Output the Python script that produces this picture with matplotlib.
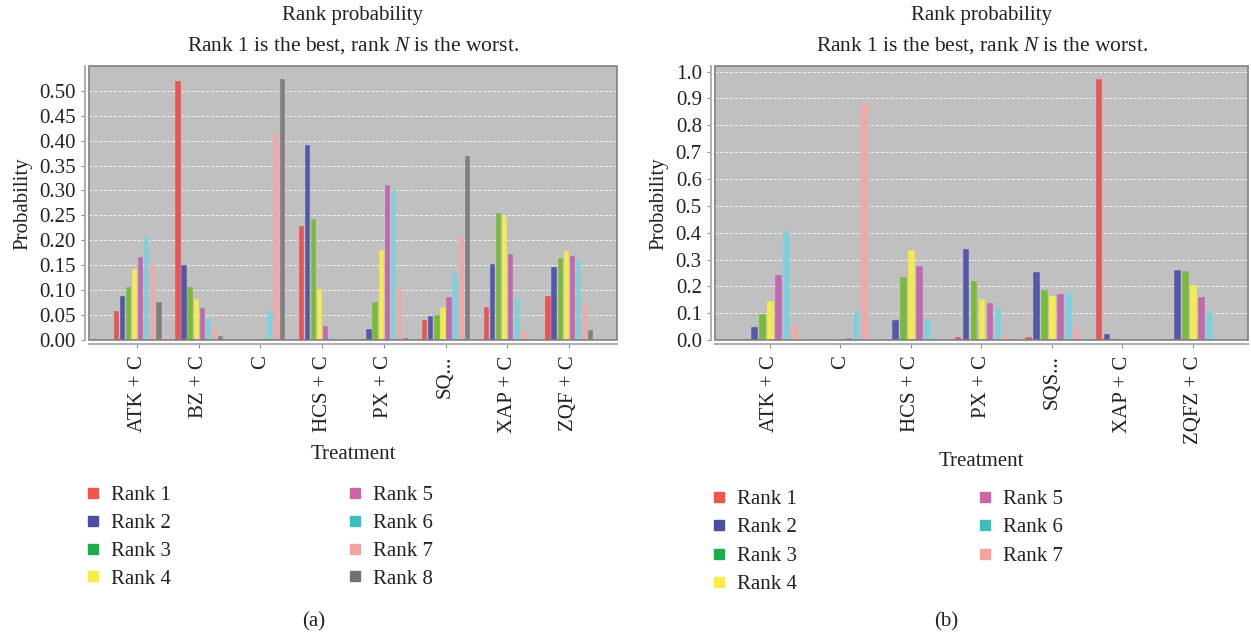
import numpy as np
import matplotlib.pyplot as plt
from matplotlib.lines import Line2D
from matplotlib.patches import Rectangle

FS = 15
plt.rcParams['font.family'] = ['Liberation Serif', 'DejaVu Serif']
plt.rcParams['font.size'] = FS
plt.rcParams['mathtext.fontset'] = 'custom'
plt.rcParams['mathtext.rm'] = 'Liberation Serif'
plt.rcParams['mathtext.it'] = 'Liberation Serif:italic'

# panel (a): treatments and rank probabilities (one row per rank)
treat_a = ['ATK + C', 'BZ + C', 'C', 'HCS + C', 'PX + C', 'SQ...', 'XAP + C', 'ZQF + C']
probs_a = [
    [0.059, 0.519, 0.000, 0.228, 0.003, 0.040, 0.066, 0.088],  # rank 1
    [0.089, 0.150, 0.000, 0.392, 0.022, 0.049, 0.153, 0.147],  # rank 2
    [0.106, 0.106, 0.000, 0.243, 0.076, 0.050, 0.255, 0.164],  # rank 3
    [0.143, 0.083, 0.000, 0.103, 0.181, 0.066, 0.249, 0.179],  # rank 4
    [0.166, 0.064, 0.003, 0.029, 0.310, 0.087, 0.173, 0.168],  # rank 5
    [0.208, 0.045, 0.061, 0.007, 0.301, 0.134, 0.085, 0.161],  # rank 6
    [0.151, 0.023, 0.414, 0.000, 0.105, 0.208, 0.021, 0.076],  # rank 7
    [0.076, 0.009, 0.523, 0.000, 0.004, 0.369, 0.001, 0.020],  # rank 8
]

# panel (b)
treat_b = ['ATK + C', 'C', 'HCS + C', 'PX + C', 'SQS...', 'XAP + C', 'ZQFZ + C']
probs_b = [
    [0.003, 0.000, 0.000, 0.012, 0.010, 0.972, 0.006],  # rank 1
    [0.050, 0.000, 0.075, 0.341, 0.254, 0.022, 0.262],  # rank 2
    [0.097, 0.000, 0.235, 0.219, 0.187, 0.004, 0.259],  # rank 3
    [0.147, 0.000, 0.334, 0.152, 0.163, 0.001, 0.205],  # rank 4
    [0.244, 0.007, 0.276, 0.138, 0.172, 0.000, 0.161],  # rank 5
    [0.408, 0.109, 0.080, 0.121, 0.177, 0.000, 0.106],  # rank 6
    [0.057, 0.882, 0.000, 0.015, 0.040, 0.000, 0.005],  # rank 7
]

bar_colors = ['#e85555', '#5558aa', '#78bb3a', '#f5ea50', '#c068b0', '#80d0dc', '#f0a8a8', '#808080']
legend_colors = ['#f0564a', '#4b4fa3', '#1aaf4b', '#f7ee45', '#c866a8', '#3bbfbd', '#f4a3a0', '#707272']
TXT = '#222222'


def draw_panel(fig, rect, treatments, probs, ylim, yticks, yfmt, xlabelpad,
               legend_xy, colspace, rowspace, tag, tag_x):
    ax = fig.add_axes(rect)
    ax.set_facecolor('#c0c0c0')
    n = len(probs)
    x = np.arange(len(treatments))
    slot = 0.79 / n
    for i, row in enumerate(probs):
        ax.bar(x - 0.395 + slot * (i + 0.5), row, width=slot * 0.72,
               color=bar_colors[i], edgecolor=bar_colors[i], linewidth=0.4, zorder=3)
    ax.set_xlim(-0.78, len(treatments) - 0.22)
    ax.set_ylim(*ylim)

    # plot outline plus offset axis lines
    ax.add_patch(Rectangle((0, 0), 1, 1, transform=ax.transAxes, fill=False,
                           edgecolor='#808080', linewidth=1.2, zorder=5, clip_on=False))
    for s in ['top', 'right']:
        ax.spines[s].set_visible(False)
    for s in ['left', 'bottom']:
        ax.spines[s].set_position(('outward', 3))
        ax.spines[s].set_color('#b0b0b0')
        ax.spines[s].set_linewidth(1.5)
    ax.tick_params(axis='both', color='#909090', labelcolor=TXT, labelsize=FS,
                   length=3, width=0.8)
    ax.tick_params(axis='x', labelrotation=90, pad=5)

    ax.set_yticks(yticks)
    ax.set_yticklabels([yfmt.format(v) for v in yticks])
    ax.set_xticks(x)
    ax.set_xticklabels(treatments)
    ax.yaxis.grid(True, color='white', linestyle=(0, (3, 2)), linewidth=0.7, alpha=0.8)
    ax.set_axisbelow(True)

    ax.set_ylabel('Probability', fontsize=FS, color=TXT, labelpad=5)
    ax.set_xlabel('Treatment', fontsize=FS, color=TXT, labelpad=xlabelpad)

    cx = rect[0] + rect[2] / 2
    fig.text(cx, 0.976, 'Rank probability', ha='center', va='center', fontsize=FS, color=TXT)
    fig.text(cx, 0.928, r'Rank 1 is the best, rank $N$ is the worst.', ha='center', va='center',
             fontsize=15.5, color=TXT)

    handles = [Line2D([], [], marker='s', linestyle='none', markersize=6.5,
                      markerfacecolor=legend_colors[i], markeredgecolor=legend_colors[i])
               for i in range(n)]
    labels = ['Rank {}'.format(i + 1) for i in range(n)]
    fig.legend(handles, labels, loc='upper left', bbox_to_anchor=legend_xy, ncol=2,
               frameon=False, fontsize=FS, handlelength=0.8, handletextpad=0.45,
               columnspacing=colspace, labelspacing=rowspace, borderaxespad=0, borderpad=0,
               labelcolor=TXT)
    fig.text(tag_x, 0.023, tag, ha='center', va='center', fontsize=FS, color=TXT)
    return ax


fig = plt.figure(figsize=(12.51, 6.37), dpi=100)

draw_panel(fig, [0.0711, 0.466, 0.4221, 0.430], treat_a, probs_a, (0, 0.549),
           np.arange(0, 0.51, 0.05), '{:.2f}', 9, (0.068, 0.238), 8.45, 0.40, '(a)', 0.251)
draw_panel(fig, [0.5715, 0.466, 0.4261, 0.430], treat_b, probs_b, (0, 1.02),
           np.arange(0, 1.01, 0.1), '{:.1f}', 6, (0.568, 0.232), 8.65, 0.43, '(b)', 0.756)

fig.savefig('out.png', dpi=100)
